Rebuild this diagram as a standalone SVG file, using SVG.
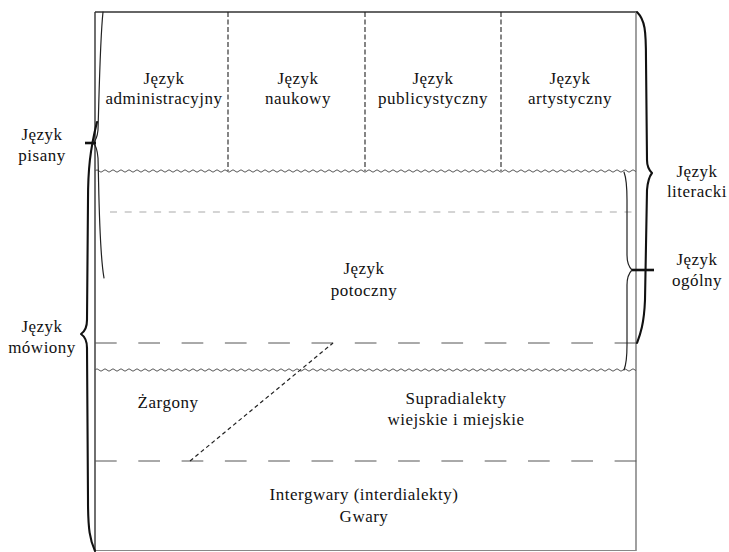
<svg xmlns="http://www.w3.org/2000/svg" width="729" height="552" viewBox="0 0 729 552">
  <style>
    text { font-family: "Liberation Serif", "Times New Roman", serif; font-size: 17px; letter-spacing: 0.5px; fill: #111; text-anchor: middle; }
    .frame { fill: none; stroke: #333; stroke-width: 1.4; }
    .frame-r { fill: none; stroke: #888; stroke-width: 1.6; }
    .vdash { stroke: #222; stroke-width: 1.1; stroke-dasharray: 5 2.5; }
    .gdash { stroke: #aaa; stroke-width: 1.2; stroke-dasharray: 7 7.7; }
    .ldash { stroke: #555; stroke-width: 1; stroke-dasharray: 21.7 21.6; }
    .diag { stroke: #222; stroke-width: 1.2; stroke-dasharray: 4 3; }
    .brace { fill: none; stroke: #111; stroke-width: 2.1; stroke-linejoin: round; stroke-linecap: round; }
    .brace-thin { fill: none; stroke: #222; stroke-width: 1.2; stroke-linecap: round; }
    .tick { stroke: #111; stroke-width: 2.6; }
    .wavepath { fill: none; stroke: #555; stroke-width: 1; }
  </style>
  <defs>
    <pattern id="wave-top" patternUnits="userSpaceOnUse" x="95" y="168" width="8" height="6">
      <path class="wavepath" d="M0 3 Q2 0.6 4 3 T8 3"/>
    </pattern>
    <pattern id="wave-bottom" patternUnits="userSpaceOnUse" x="95" y="367" width="8" height="6">
      <path class="wavepath" d="M0 3 Q2 0.6 4 3 T8 3"/>
    </pattern>
  </defs>

  <!-- outer frame -->
  <g id="frame">
    <line class="frame" x1="95" y1="12" x2="636" y2="12"/>
    <line class="frame" x1="95" y1="12" x2="95" y2="551"/>
    <line class="frame-r" x1="636" y1="12" x2="636" y2="551"/>
    <line x1="95" y1="550.5" x2="636" y2="550.5" stroke="#888" stroke-width="1.2"/>
  </g>

  <!-- boundaries between layers -->
  <g id="connectors">
    <line class="vdash" x1="228" y1="12" x2="228" y2="171"/>
    <line class="vdash" x1="365" y1="12" x2="365" y2="171"/>
    <line class="vdash" x1="501" y1="12" x2="501" y2="171"/>
    <rect x="95" y="168" width="541" height="6" fill="url(#wave-top)"/>
    <rect x="95" y="367" width="541" height="6" fill="url(#wave-bottom)"/>
    <line class="gdash" x1="110" y1="212" x2="636" y2="212"/>
    <line class="ldash" x1="95" y1="343" x2="637" y2="343"/>
    <line class="ldash" x1="95" y1="461" x2="637" y2="461"/>
    <line class="diag" x1="190" y1="461" x2="333" y2="343"/>
  </g>

  <!-- braces on the left -->
  <g id="brace-pisany">
    <path class="brace-thin" d="M103 12 C100 40 99 100 98 130 Q97 140 93 143 Q97 146 98 158 C99 190 99 250 104 278"/>
    <line class="tick" x1="85" y1="143" x2="96" y2="143"/>
  </g>
  <g id="brace-mowiony">
    <path class="brace" d="M97 122 C90 150 88 170 88 200 L87 320 Q87 330 81 334 Q87 338 87 348 L88 500 C88 530 90 540 95 551"/>
  </g>

  <!-- braces on the right -->
  <g id="brace-literacki">
    <path class="brace" d="M637 12 C645 20 646 30 646 60 L647 160 Q647 168 652 173 Q648 178 647 190 L645 300 C644 325 640 335 637 343"/>
  </g>
  <g id="brace-ogolny">
    <path class="brace-thin" d="M624 172 C627 180 627 190 627 200 L627 255 Q627 265 632 270 Q627 275 627 285 L627 345 C627 360 626 365 624 370"/>
    <line class="tick" x1="632" y1="270" x2="654" y2="270"/>
  </g>

  <!-- written styles -->
  <g id="administracyjny">
    <text x="164" y="84">Język</text>
    <text x="164" y="104">administracyjny</text>
  </g>
  <g id="naukowy">
    <text x="298" y="84">Język</text>
    <text x="298" y="104">naukowy</text>
  </g>
  <g id="publicystyczny">
    <text x="433" y="84">Język</text>
    <text x="433" y="104">publicystyczny</text>
  </g>
  <g id="artystyczny">
    <text x="570" y="84">Język</text>
    <text x="570" y="104">artystyczny</text>
  </g>

  <!-- spoken layers -->
  <g id="potoczny">
    <text x="364" y="274">Język</text>
    <text x="364" y="296">potoczny</text>
  </g>
  <g id="zargony">
    <text x="168" y="408">Żargony</text>
  </g>
  <g id="supradialekty">
    <text x="456" y="404">Supradialekty</text>
    <text x="456" y="425">wiejskie i miejskie</text>
  </g>
  <g id="gwary">
    <text x="364" y="500">Intergwary (interdialekty)</text>
    <text x="364" y="522">Gwary</text>
  </g>

  <!-- side labels -->
  <g id="label-pisany">
    <text x="42" y="140">Język</text>
    <text x="42" y="161">pisany</text>
  </g>
  <g id="label-mowiony">
    <text x="42" y="332">Język</text>
    <text x="42" y="353">mówiony</text>
  </g>
  <g id="label-literacki">
    <text x="697" y="177">Język</text>
    <text x="697" y="197">literacki</text>
  </g>
  <g id="label-ogolny">
    <text x="697" y="265">Język</text>
    <text x="697" y="286">ogólny</text>
  </g>
</svg>
